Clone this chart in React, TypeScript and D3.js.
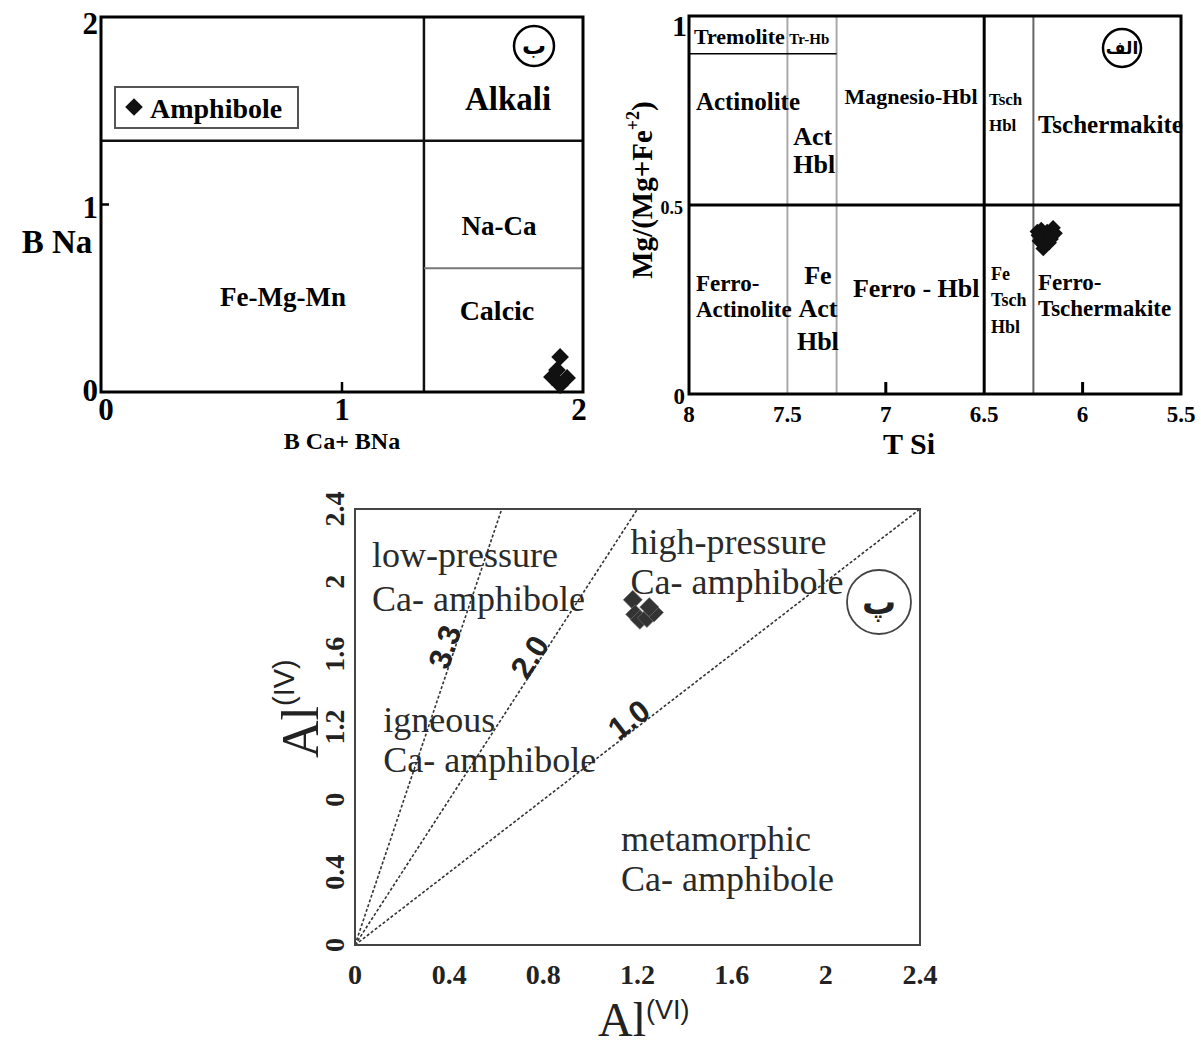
import React from 'react';
import * as d3 from 'd3';

// ---------- panel (ب) : B Na vs B Ca + B Na ----------
const bTicks = [0, 1, 2];
const bCaNaLimit = 1.34;
const bNaAlkali = 1.34;
const bNaCalcic = 0.66;
const bPoints: [number, number][] = [
  [1.905, 0.187], [1.871, 0.08], [1.934, 0.075], [1.892, 0.117], [1.905, 0.037],
];

// ---------- panel (الف) : Mg/(Mg+Fe2+) vs T Si ----------
const siTicks = [8, 7.5, 7, 6.5, 6, 5.5];
const siInnerTicks = [7, 6];
const siLightLines = [7.5, 7.25];
const siMainLine = 6.5;
const siDarkLine = 6.25;
const mgTicks = [0, 0.5, 1];
const tremoliteLimit = 0.9;
const siPoints: [number, number][] = [
  [6.23, 0.43], [6.21, 0.435], [6.18, 0.43], [6.15, 0.44], [6.14, 0.425],
  [6.16, 0.41], [6.19, 0.415], [6.22, 0.405], [6.2, 0.395], [6.2, 0.385],
  [6.17, 0.4], [6.225, 0.42],
];

// ---------- panel (پ) : Al(IV) vs Al(VI) ----------
const alTicks = [0, 0.4, 0.8, 1.2, 1.6, 2, 2.4];
const alYLabels = ['0', '0.4', '0', '1.2', '1.6', '2', '2.4'];
const ratioValues = [3.85, 2.0, 1.0];
const ratioLabels = ['3.3', '2.0', '1.0'];
const alPoints: [number, number][] = [
  [1.18, 1.9], [1.19, 1.82], [1.21, 1.79], [1.24, 1.8], [1.27, 1.83], [1.25, 1.86],
];

const SERIF = '"Liberation Serif", "Times New Roman", serif';
const SANS = '"Liberation Sans", Arial, sans-serif';
const ARAB = '"DejaVu Sans", sans-serif';

const diamondPath = (side: number) =>
  d3.symbol().type(d3.symbolSquare).size(side * side)() as string;

function PanelB() {
  const x = d3.scaleLinear().domain([0, 2]).range([101, 583]);
  const y = d3.scaleLinear().domain([0, 2]).range([392, 17]);
  const [x0, x1] = x.range();
  const [y0, y1] = y.range();
  const d = diamondPath(12.5);
  return (
    <g fontFamily={SERIF} fontWeight="bold" fill="#000">
      <line x1={x(bCaNaLimit)} x2={x(bCaNaLimit)} y1={y1} y2={y0} stroke="#111" strokeWidth={2.5} />
      <line x1={x0} x2={x1} y1={y(bNaAlkali)} y2={y(bNaAlkali)} stroke="#111" strokeWidth={2.5} />
      <line x1={x(bCaNaLimit)} x2={x1} y1={y(bNaCalcic)} y2={y(bNaCalcic)} stroke="#777" strokeWidth={2} />
      <line x1={x(1)} x2={x(1)} y1={y0} y2={y0 - 10} stroke="#000" strokeWidth={2.5} />
      <line x1={x0} x2={x0 + 8} y1={y(1)} y2={y(1)} stroke="#000" strokeWidth={2.5} />
      <rect x={x0} y={y1} width={x1 - x0} height={y0 - y1} fill="none" stroke="#000" strokeWidth={3} />

      {bTicks.map((t, i) => (
        <text key={'bx' + t} x={x(t) + [5, 0, -4][i]} y={420} fontSize={31} textAnchor="middle">{t}</text>
      ))}
      {bTicks.map((t, i) => (
        <text key={'by' + t} x={x0 - 3} y={y(t) + [9, 13, 17][i]} fontSize={31} textAnchor="end">{t}</text>
      ))}
      <text x={57} y={253} fontSize={33} textAnchor="middle">B Na</text>
      <text x={342} y={449} fontSize={24} textAnchor="middle">B Ca+ BNa</text>

      <text x={x(1.689)} y={y(1.504)} fontSize={33} textAnchor="middle">Alkali</text>
      <text x={x(1.651)} y={y(0.837)} fontSize={27} textAnchor="middle">Na-Ca</text>
      <text x={x(1.643)} y={y(0.384)} fontSize={28} textAnchor="middle">Calcic</text>
      <text x={x(0.755)} y={y(0.459)} fontSize={27} textAnchor="middle">Fe-Mg-Mn</text>

      <rect x={115} y={87} width={183} height={41} fill="#fff" stroke="#555" strokeWidth={2} />
      <path d={d} transform="translate(134,107) rotate(45)" fill="#111" />
      <text x={150} y={118} fontSize={28}>Amphibole</text>

      <circle cx={534} cy={46} r={20} fill="none" stroke="#000" strokeWidth={2.5} />
      <text x={534} y={46} fontFamily={ARAB} fontSize={24} textAnchor="middle" dominantBaseline="central">ب</text>

      {bPoints.map(([a, b], i) => (
        <path key={i} d={d} transform={`translate(${x(a)},${y(b)}) rotate(45)`} fill="#111" />
      ))}
    </g>
  );
}

function PanelA() {
  const x = d3.scaleLinear().domain([8, 5.5]).range([689, 1181]);
  const y = d3.scaleLinear().domain([0, 1]).range([394, 16]);
  const [x0, x1] = x.range();
  const [y0, y1] = y.range();
  const d = diamondPath(11);
  const lbl = (key: string, vx: number, vy: number, size: number, s: string, anchor = 'start') => (
    <text key={key} x={x(vx)} y={y(vy)} fontSize={size} textAnchor={anchor}>{s}</text>
  );
  return (
    <g fontFamily={SERIF} fontWeight="bold" fill="#000">
      {siLightLines.map((v) => (
        <line key={v} x1={x(v)} x2={x(v)} y1={y1} y2={y0} stroke="#aaa" strokeWidth={2} />
      ))}
      <line x1={x(siDarkLine)} x2={x(siDarkLine)} y1={y1} y2={y0} stroke="#666" strokeWidth={2} />
      <line x1={x(siMainLine)} x2={x(siMainLine)} y1={y1} y2={y0} stroke="#000" strokeWidth={3} />
      <line x1={x0} x2={x1} y1={y(0.5)} y2={y(0.5)} stroke="#000" strokeWidth={3} />
      <line x1={x0} x2={x(7.25)} y1={y(tremoliteLimit)} y2={y(tremoliteLimit)} stroke="#000" strokeWidth={1.5} />
      {siInnerTicks.map((v) => (
        <line key={'it' + v} x1={x(v)} x2={x(v)} y1={y0} y2={y0 - 12} stroke="#000" strokeWidth={3} />
      ))}
      <rect x={x0} y={y1} width={x1 - x0} height={y0 - y1} fill="none" stroke="#000" strokeWidth={3} />

      {siTicks.map((t) => (
        <text key={'sx' + t} x={x(t)} y={422} fontSize={23} textAnchor="middle">{t}</text>
      ))}
      <text x={x0 - 2} y={36} fontSize={30} textAnchor="end">{mgTicks[2]}</text>
      <text x={x0 - 6} y={214} fontSize={18} textAnchor="end">{mgTicks[1]}</text>
      <text x={x0 - 4} y={404} fontSize={23} textAnchor="end">{mgTicks[0]}</text>

      <text transform="translate(652,190) rotate(-90)" fontSize={29} textAnchor="middle">
        Mg/(Mg+Fe<tspan fontSize={18} dy={-13}>+2</tspan><tspan dy={13}>)</tspan>
      </text>
      <text x={909} y={454} fontSize={30} textAnchor="middle">T Si</text>

      {lbl('tre', 7.975, 0.926, 22, 'Tremolite')}
      {lbl('trh', 7.49, 0.926, 15, 'Tr-Hb')}
      {lbl('act', 7.965, 0.751, 25, 'Actinolite')}
      {lbl('ah1', 7.47, 0.659, 26, 'Act')}
      {lbl('ah2', 7.47, 0.585, 26, 'Hbl')}
      {lbl('mgh', 7.21, 0.767, 22, 'Magnesio-Hbl')}
      {lbl('th1', 6.476, 0.765, 17, 'Tsch')}
      {lbl('th2', 6.476, 0.696, 17, 'Hbl')}
      {lbl('tsc', 6.227, 0.69, 25, 'Tschermakite')}
      {lbl('fa1', 7.965, 0.272, 23, 'Ferro-')}
      {lbl('fa2', 7.965, 0.204, 23, 'Actinolite')}
      {lbl('fah1', 7.345, 0.291, 26, 'Fe', 'middle')}
      {lbl('fah2', 7.345, 0.204, 26, 'Act', 'middle')}
      {lbl('fah3', 7.345, 0.116, 26, 'Hbl', 'middle')}
      {lbl('fhb', 7.167, 0.257, 26, 'Ferro - Hbl')}
      {lbl('ft1', 6.465, 0.302, 18, 'Fe')}
      {lbl('ft2', 6.465, 0.233, 18, 'Tsch')}
      {lbl('ft3', 6.465, 0.161, 18, 'Hbl')}
      {lbl('fts1', 6.227, 0.275, 23, 'Ferro-')}
      {lbl('fts2', 6.227, 0.206, 23, 'Tschermakite')}

      <circle cx={1122} cy={48} r={19} fill="#fff" stroke="#000" strokeWidth={2.5} />
      <text x={1122} y={48} fontFamily={ARAB} fontSize={17} textAnchor="middle" dominantBaseline="central">الف</text>

      {siPoints.map(([a, b], i) => (
        <path key={i} d={d} transform={`translate(${x(a)},${y(b)}) rotate(45)`} fill="#111" />
      ))}
    </g>
  );
}

function PanelP() {
  const x = d3.scaleLinear().domain([0, 2.4]).range([355, 920]);
  const y = d3.scaleLinear().domain([0, 2.4]).range([945, 509]);
  const [x0, x1] = x.range();
  const [y0, y1] = y.range();
  const pxPerX = (x1 - x0) / 2.4;
  const pxPerY = (y0 - y1) / 2.4;
  const d = diamondPath(13.5);
  const labelPos: [number, number][] = [[0.382, 1.64], [0.743, 1.585], [1.164, 1.24]];
  const region = (key: string, vx: number, vy: number, s: string) => (
    <text key={key} x={x(vx)} y={y(vy)} fontSize={36} fill="#2a2a2a">{s}</text>
  );
  return (
    <g fontFamily={SERIF}>
      {ratioValues.map((r) => {
        const xe = Math.min(2.4, 2.4 / r);
        return (
          <line key={r} x1={x(0)} y1={y(0)} x2={x(xe)} y2={y(xe * r)}
            stroke="#333" strokeWidth={1.6} strokeDasharray="3,2" />
        );
      })}
      <rect x={x0} y={y1} width={x1 - x0} height={y0 - y1} fill="none" stroke="#444" strokeWidth={2} />

      {region('lp1', 0.072, 2.08, 'low-pressure')}
      {region('lp2', 0.072, 1.84, 'Ca- amphibole')}
      {region('hp1', 1.17, 2.15, 'high-pressure')}
      {region('hp2', 1.17, 1.93, 'Ca- amphibole')}
      {region('ig1', 0.12, 1.17, 'igneous')}
      {region('ig2', 0.12, 0.95, 'Ca- amphibole')}
      {region('mt1', 1.13, 0.52, 'metamorphic')}
      {region('mt2', 1.13, 0.3, 'Ca- amphibole')}

      {ratioValues.map((r, i) => {
        const ang = (-Math.atan((r * pxPerY) / pxPerX) * 180) / Math.PI;
        const [lx, ly] = labelPos[i];
        return (
          <text key={'rl' + i} transform={`translate(${x(lx)},${y(ly)}) rotate(${ang})`}
            fontFamily={SANS} fontWeight="bold" fontSize={31} fill="#222"
            textAnchor="middle" dominantBaseline="central">{ratioLabels[i]}</text>
        );
      })}

      {alTicks.map((t) => (
        <text key={'ax' + t} x={x(t)} y={984} fontSize={28} fontWeight="bold" textAnchor="middle" fill="#222">{t}</text>
      ))}
      {alTicks.map((t, i) => (
        <text key={'ay' + t} transform={`translate(344,${y(t)}) rotate(-90)`} fontSize={28}
          fontWeight="bold" textAnchor="middle" fill="#222">{alYLabels[i]}</text>
      ))}

      <text x={598} y={1036} fontSize={48} fill="#222">
        Al<tspan fontFamily={SANS} fontSize={27} dy={-17}>(VI)</tspan>
      </text>
      <text transform="translate(318,758) rotate(-90)" fontSize={52} fill="#222">
        Al<tspan fontFamily={SANS} fontSize={29} dy={-24}>(IV)</tspan>
      </text>

      <circle cx={879} cy={602} r={32} fill="#fff" stroke="#444" strokeWidth={1.8} />
      <text x={879} y={602} fontFamily={ARAB} fontWeight="bold" fontSize={34} textAnchor="middle"
        dominantBaseline="central" fill="#222">پ</text>

      {alPoints.map(([a, b], i) => (
        <path key={i} d={d} transform={`translate(${x(a)},${y(b)}) rotate(45)`} fill="#333" stroke="#777" strokeWidth={0.6} />
      ))}
    </g>
  );
}

export default function App() {
  return (
    <svg width={1201} height={1048} style={{ position: 'absolute', left: 0, top: 0, background: '#fff' }}>
      <PanelB />
      <PanelA />
      <PanelP />
    </svg>
  );
}
